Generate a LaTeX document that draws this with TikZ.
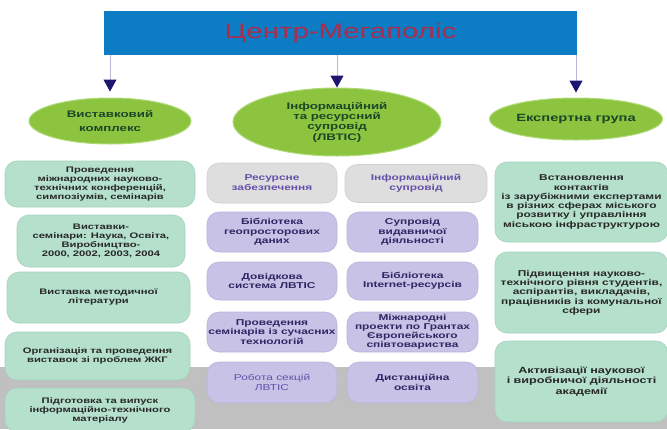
\documentclass[tikz,border=0pt]{standalone}
\usepackage{fontspec}
\setmainfont{Liberation Sans}[FakeStretch=1.4]
\usetikzlibrary{arrows.meta,shapes.geometric}
\definecolor{topblue}{RGB}{12,124,196}
\definecolor{titlered}{RGB}{172,44,76}
\definecolor{linegrey}{RGB}{185,185,215}
\definecolor{tipnavy}{RGB}{30,22,110}
\definecolor{ellgreen}{RGB}{140,196,64}
\definecolor{elledge}{RGB}{175,218,120}
\definecolor{elltext}{RGB}{28,70,40}
\definecolor{mint}{RGB}{180,224,204}
\definecolor{mintedge}{RGB}{165,210,190}
\definecolor{minttext}{RGB}{40,40,40}
\definecolor{lav}{RGB}{200,194,230}
\definecolor{lavedge}{RGB}{185,178,218}
\definecolor{lavtext}{RGB}{48,38,100}
\definecolor{greybox}{RGB}{222,222,222}
\definecolor{greyedge}{RGB}{208,208,208}
\definecolor{greytext}{RGB}{100,80,170}
\definecolor{band}{RGB}{192,192,192}
\tikzset{
  dims/.style 2 args={minimum width=#1, minimum height=#2},
  topbox/.style={rectangle, fill=topblue, inner sep=0, text=titlered, font=\fontsize{21}{24}\selectfont},
  oval/.style={ellipse, fill=ellgreen, draw=elledge, line width=1pt, inner sep=0, align=center, text=elltext},
  mintbox/.style={rectangle, rounded corners=12pt, fill=mint, draw=mintedge, line width=0.6pt, inner sep=0, align=center, text=minttext, font=\fontsize{8}{9}\selectfont\bfseries},
  rbox/.style={mintbox, font=\fontsize{8.5}{9.3}\selectfont\bfseries},
  lavbox/.style={rectangle, rounded corners=12pt, fill=lav, draw=lavedge, line width=0.6pt, inner sep=0, align=center, text=lavtext, font=\fontsize{8.5}{9.5}\selectfont\bfseries},
  greyb/.style={rectangle, rounded corners=12pt, fill=greybox, draw=greyedge, line width=0.6pt, inner sep=0, align=center, text=greytext, font=\fontsize{8.5}{10}\selectfont\bfseries},
  conn/.style={draw=linegrey, line width=1pt, -{Triangle[width=13pt,length=12pt,color=tipnavy]}}
}
\begin{document}
\begin{tikzpicture}[x=1pt,y=-1pt]
\useasboundingbox (0,0) rectangle (667,429);
\fill[band] (0,367) rectangle (667,429);
% top
\node[topbox, dims={473pt}{44pt}] (top) at (340.5,33) {Центр-Мегаполіс};
% ellipses
\node[oval, dims={162pt}{46pt}, font=\fontsize{9.5}{14}\selectfont\bfseries] (e1) at (110,121) {Виставковий\\комплекс};
\node[oval, dims={208pt}{68pt}, font=\fontsize{9.5}{10.3}\selectfont\bfseries] (e2) at (337,122) {Інформаційний\\та ресурсний\\супровід\\(ЛВТІС)};
\node[oval, dims={173pt}{42pt}, font=\fontsize{10.5}{12}\selectfont\bfseries] (e3) at (576,119) {Експертна група};
% connectors
\draw[conn, shorten >=6pt] (top.south -| e1.north) -- (e1.north);
\draw[conn] (top.south -| e2.north) -- (e2.north);
\draw[conn, shorten >=5pt] (top.south -| e3.north) -- (e3.north);
% left column
\node[mintbox, dims={190pt}{46pt}] (l1) at (100,184) {Проведення\\міжнародних науково-\\технічних конференцій,\\симпозіумів, семінарів};
\node[mintbox, dims={168pt}{52pt}] (l2) at (101,241) {Виставки-\\семінари: Наука, Освіта,\\Виробництво-\\2000, 2002, 2003, 2004};
\node[mintbox, dims={183pt}{51pt}] (l3) at (98.5,297.5) {Виставка методичної\\літератури};
\node[mintbox, dims={185pt}{48pt}] (l4) at (97.5,356) {Організація та проведення\\виставок зі проблем ЖКГ};
\node[mintbox, dims={190pt}{44pt}] (l5) at (100,410) {Підготовка та випуск\\інформаційно-технічного\\матеріалу};
% middle left column
\node[greyb, dims={130pt}{40pt}] (g1) at (272,183) {Ресурсне\\забезпечення};
\node[lavbox, dims={130pt}{40pt}] (m1) at (272,232) {Бібліотека\\геопросторових\\даних};
\node[lavbox, dims={130pt}{38pt}] (m2) at (272,281) {Довідкова\\система ЛВТІС};
\node[lavbox, dims={130pt}{40pt}] (m3) at (272,332) {Проведення\\семінарів із сучасних\\технологій};
\node[lavbox, dims={130pt}{41pt}, text=greytext, font=\fontsize{8.5}{10}\selectfont] (m4) at (272,382.5) {Робота секцій\\ЛВТІС};
% middle right column
\node[greyb, dims={142pt}{38pt}] (g2) at (416,183.5) {Інформаційний\\супровід};
\node[lavbox, dims={131pt}{40pt}] (n1) at (412.5,232) {Супровід\\видавничої\\діяльності};
\node[lavbox, dims={131pt}{38pt}] (n2) at (412.5,281) {Бібліотека\\Internet-ресурсів};
\node[lavbox, dims={131pt}{40pt}, font=\fontsize{8.5}{9}\selectfont\bfseries] (n3) at (412.5,332) {Міжнародні\\проекти по Грантах\\Європейського\\співтовариства};
\node[lavbox, dims={131pt}{41pt}] (n4) at (412.5,382.5) {Дистанційна\\освіта};
% right column
\node[rbox, dims={173pt}{80pt}] (r1) at (581.5,202) {Встановлення\\контактів\\із зарубіжними експертами\\в різних сферах міського\\розвитку і управління\\міською інфраструктурою};
\node[rbox, dims={173pt}{81pt}] (r2) at (581.5,292.5) {Підвищення науково-\\технічного рівня студентів,\\аспірантів, викладачів,\\працівників із комунальної\\сфери};
\node[rbox, dims={173pt}{81pt}, font=\fontsize{9}{10.5}\selectfont\bfseries] (r3) at (581.5,381.5) {Активізації наукової\\і виробничої діяльності\\академії};
\end{tikzpicture}
\end{document}
